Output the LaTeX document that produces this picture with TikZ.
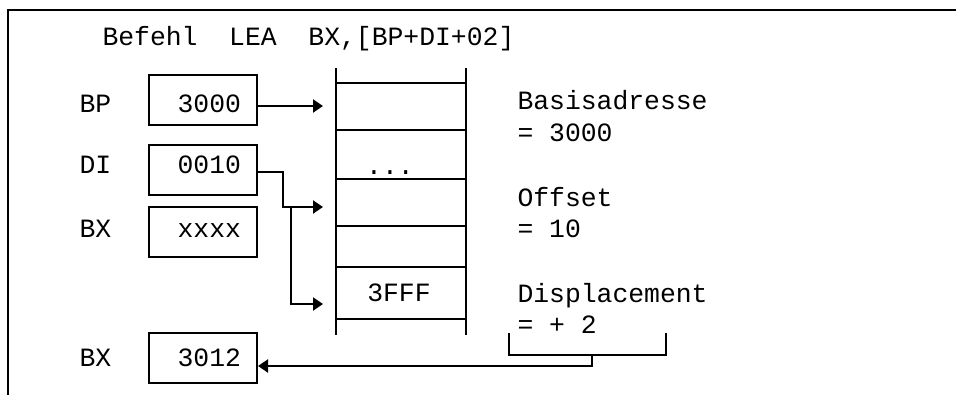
\documentclass[tikz,border=0pt]{standalone}
\usepackage{fontspec}
\newfontfamily\monofnt{Liberation Mono}
\usetikzlibrary{arrows.meta}
\begin{document}
\begin{tikzpicture}[x=1pt,y=-1pt,line width=2pt,
  txt/.style={font=\monofnt\fontsize{26.4}{30}\selectfont,inner sep=0pt},
  lbl/.style={txt,anchor=base west},
  val/.style={txt,anchor=base east},
  regbox/.style={draw,rectangle,minimum width=108pt,minimum height=50pt,inner sep=0pt},
  arr/.style={-{Triangle[length=10pt,width=13pt]}},
  memline/.style={line width=2.3pt}]
\useasboundingbox (0,0) rectangle (956,394);
% frame
\draw (8,395) -- (8,10) -- (958,10);
% title
\node[lbl] (title) at (101.5,45) {Befehl\ \ LEA\ \ BX,[BP+DI+02]};
% register labels
\node[lbl] (lBP) at (78.5,112) {BP};
\node[lbl] (lDI) at (78.5,173) {DI};
\node[lbl] (lBXa) at (78.5,237) {BX};
\node[lbl] (lBXb) at (78.5,366) {BX};
% register boxes
\node[regbox] (BP) at (203,100) {};
\node[regbox] (DI) at (203,169.5) {};
\node[regbox] (BXa) at (203,232) {};
\node[regbox] (BXb) at (203,358) {};
\node[val] (vBP) at (242,112) {3000};
\node[val] (vDI) at (242,173) {0010};
\node[val] (vBXa) at (242,237) {xxxx};
\node[val] (vBXb) at (242,366) {3012};
% memory column
\draw[memline] (336,68) -- (336,335);
\draw[memline] (466,68) -- (466,335);
\foreach \yy in {83,130,179,226,267,319}
  \draw[memline] (336,\yy) -- (466,\yy);
\node[txt,anchor=base] (dots) at (390,174) {...};
\node[txt,anchor=base] (m3FFF) at (399,301) {3FFF};
% right texts
\node[lbl] (t1) at (516.5,109) {Basisadresse};
\node[lbl] (t2) at (516.5,141) {= 3000};
\node[lbl] (t3) at (516.5,206) {Offset};
\node[lbl] (t4) at (516.5,237) {= 10};
\node[lbl] (t5) at (516.5,302) {Displacement};
\node[lbl] (t6) at (516.5,333) {= + 2};
% arrow targets
\coordinate (aBP) at (323,106);
\coordinate (aDI) at (323,207);
\coordinate (a3FFF) at (323,304);
\coordinate (dj) at (283,172);
\coordinate (br) at (291,207);
% connectors
\draw[arr] (BP.east |- aBP) -- (aBP);
\draw[arr] (DI.east |- dj) -- (dj) |- (aDI);
\draw[arr] (br) |- (a3FFF);
% bracket
\coordinate (bl) at (509,333);
\coordinate (brr) at (666,333);
\coordinate (bm) at (592,355);
\coordinate (bo) at (592,366);
\draw (bl) |- (bm) -| (brr);
\draw[arr] (bm) -- (bo) -- (BXb.east |- bo);
\end{tikzpicture}
\end{document}
